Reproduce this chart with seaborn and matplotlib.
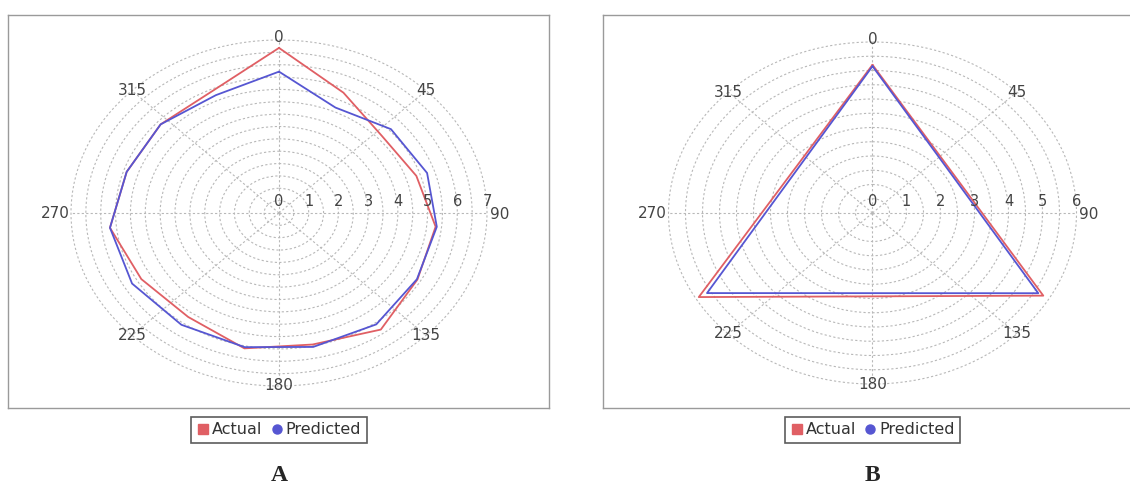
import numpy as np
import pandas as pd
import matplotlib
matplotlib.use("Agg")
import matplotlib.pyplot as plt
import seaborn as sns
from matplotlib.lines import Line2D

# ---------------- data ----------------
angles_a = [0, 24, 48, 72, 96, 120, 144, 168, 192, 216, 240, 264, 288, 312, 336]
actual_a = [6.68, 5.33, 4.66, 4.86, 5.30, 5.38, 5.83, 5.44, 5.60, 5.20, 5.35, 5.72, 5.39, 5.36, 5.43]
predicted_a = [5.72, 4.67, 5.07, 5.24, 5.34, 5.36, 5.57, 5.54, 5.55, 5.59, 5.71, 5.72, 5.39, 5.36, 5.22]

angles_b = [0, 120, 240]
actual_b = [5.20, 5.80, 5.90]
predicted_b = [5.15, 5.63, 5.62]

angle_ticks = [0, 45, 90, 135, 180, 225, 270, 315]
angle_labels = ["0", "45", "90", "135", "180", "225", "270", "315"]
series_names = ["Actual", "Predicted"]
panel_names = ["A", "B"]

RED = "#e05f64"
BLUE = "#5656d2"

sns.set_style("white")
plt.rcParams["font.family"] = ["DejaVu Sans"]

W, H = 1130, 498
fig = plt.figure(figsize=(W / 100, H / 100), dpi=100)


def fx(px):
    return px / W


def fy(py):
    return 1 - py / H


def make_df(angles, act, pred):
    rows = []
    for name, vals in zip(series_names, [act, pred]):
        closed_a = list(angles) + [360]
        closed_v = list(vals) + [vals[0]]
        for a, v in zip(closed_a, closed_v):
            rows.append({"theta": np.deg2rad(a), "r": v, "series": name})
    return pd.DataFrame(rows)


# alignment of angle labels (JFreeChart-like: centred on the outer ring,
# except at 90/270 where they sit just outside it)
label_align = {
    0: ("center", "center", 0, 2),
    45: ("center", "center", 0, 0),
    90: ("left", "center", 2, -1),
    135: ("center", "center", 0, 0),
    180: ("center", "center", 0, 0),
    225: ("center", "center", 0, 0),
    270: ("right", "center", -1, 0),
    315: ("center", "center", 0, 0),
}


def panel(box, center, rx, ry, rmax, df, label):
    # panel frame
    bx = fig.add_axes([fx(box[0]), fy(box[3]), fx(box[2] - box[0]), (box[3] - box[1]) / H])
    bx.set_xticks([])
    bx.set_yticks([])
    for s in bx.spines.values():
        s.set_color("#9a9a9a")
        s.set_linewidth(1.0)
    bx.set_zorder(0)

    cx, cy = center
    ax = fig.add_axes([fx(cx - rx), fy(cy + ry), 2 * rx / W, 2 * ry / H], projection="polar")
    ax.set_aspect("auto")
    ax.set_zorder(1)
    ax.patch.set_alpha(0)
    ax.set_theta_zero_location("N")
    ax.set_theta_direction(-1)
    ax.set_ylim(0, rmax)
    ax.set_yticks(np.arange(0.5, rmax + 0.01, 0.5))
    ax.set_yticklabels([])
    ax.set_xticks(np.deg2rad(angle_ticks))
    ax.set_xticklabels([])
    ax.grid(True, color="#b8b8b8", linestyle=(0, (2, 2)), linewidth=0.8)
    ax.spines["polar"].set_visible(False)
    for gl in ax.yaxis.get_gridlines():
        gl.set_clip_on(False)

    sns.lineplot(data=df, x="theta", y="r", hue="series", palette=[RED, BLUE],
                 estimator=None, sort=False, ax=ax, legend=False, linewidth=1.3)
    for ln in ax.lines:
        ln.set_clip_on(False)
    ax.set_xlabel("")
    ax.set_ylabel("")

    # angle labels on the outer ring
    for ang, txt in zip(angle_ticks, angle_labels):
        ha, va, dx, dy = label_align[ang]
        ax.annotate(txt, xy=(np.deg2rad(ang), rmax), xytext=(dx, dy), textcoords="offset points",
                    ha=ha, va=va, fontsize=11, color="#444444", annotation_clip=False)

    # radial value labels along the 90 deg axis
    for v in range(0, int(rmax) + 1):
        ax.annotate(str(v), xy=(np.deg2rad(90), v), xytext=(0, 3), textcoords="offset points",
                    ha="center", va="bottom", fontsize=10.5, color="#444444",
                    annotation_clip=False)

    handles = [Line2D([], [], marker="s", ls="", color=RED, markersize=6.5),
               Line2D([], [], marker="o", ls="", color=BLUE, markersize=6.5)]
    leg = fig.legend(handles, series_names, loc="center", bbox_to_anchor=(fx(cx), fy(430)),
                     ncol=2, frameon=True, fancybox=False, edgecolor="#333333",
                     handletextpad=0.15, columnspacing=0.5, borderpad=0.35,
                     handlelength=0.8, fontsize=11.5)
    leg.get_frame().set_linewidth(1.2)
    for t in leg.get_texts():
        t.set_color("#333333")

    fig.text(fx(cx), fy(475), label, ha="center", va="center", fontsize=17,
             fontweight="bold", family="Liberation Serif")


panel((8, 15, 549, 408), (279, 213), 208, 173, 7,
      make_df(angles_a, actual_a, predicted_a), panel_names[0])
panel((603, 15, 1140, 408), (872.5, 213), 204, 171, 6,
      make_df(angles_b, actual_b, predicted_b), panel_names[1])

fig.savefig("out.png", dpi=100)
